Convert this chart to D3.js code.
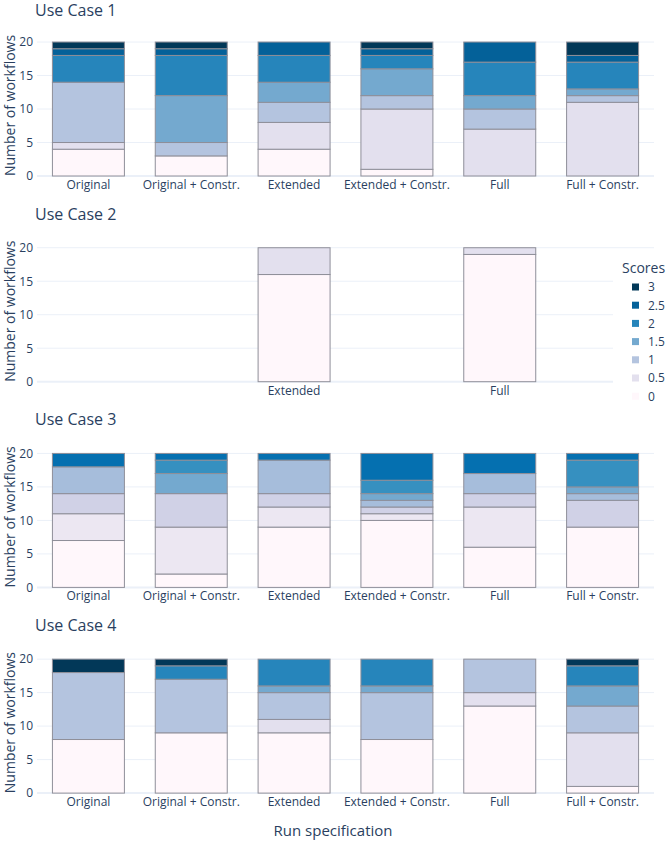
<!DOCTYPE html>
<html>
<head>
<meta charset="utf-8">
<script src="https://cdn.jsdelivr.net/npm/d3@7"></script>
<style>
  body { margin: 0; background: #fff; }
  svg { display: block; font-family: "Open Sans", sans-serif; }
</style>
</head>
<body>
<svg id="chart" width="670" height="841"></svg>
<script>
// categories shared by every panel
const categories = ['Original', 'Original + Constr.', 'Extended', 'Extended + Constr.', 'Full', 'Full + Constr.']
const yTicks = [0, 5, 10, 15, 20]
const legendScores = [3, 2.5, 2, 1.5, 1, 0.5, 0]
const panelTitles = ['Use Case 1', 'Use Case 2', 'Use Case 3', 'Use Case 4']

// Use Case 1: workflows per score, one row per category
const uc1Scores = [0, 0.5, 1, 1.5, 2, 2.5, 3]
const uc1Counts = [
  [4, 1, 9, 0, 4, 1, 1],
  [3, 0, 2, 7, 6, 1, 1],
  [4, 4, 3, 3, 4, 2, 0],
  [1, 9, 2, 4, 2, 1, 1],
  [0, 7, 3, 2, 5, 3, 0],
  [0, 11, 1, 1, 4, 1, 2]
]

// Use Case 2: only Extended and Full were run
const uc2Scores = [0, 0.5]
const uc2Counts = [null, null, [16, 4], null, [19, 1], null]

// Use Case 3: finer score steps
const uc3Scores = [0, 0.375, 0.75, 1.125, 1.5, 1.875, 2.25]
const uc3Counts = [
  [7, 4, 3, 4, 0, 0, 2],
  [2, 7, 5, 0, 3, 2, 1],
  [9, 3, 2, 5, 0, 0, 1],
  [10, 1, 1, 1, 1, 2, 4],
  [6, 6, 2, 3, 0, 0, 3],
  [9, 0, 4, 1, 1, 4, 1]
]

// Use Case 4
const uc4Scores = [0, 0.5, 1, 1.5, 2, 2.5, 3]
const uc4Counts = [
  [8, 0, 10, 0, 0, 0, 2],
  [9, 0, 8, 0, 2, 0, 1],
  [9, 2, 4, 1, 4, 0, 0],
  [8, 0, 7, 1, 4, 0, 0],
  [13, 2, 5, 0, 0, 0, 0],
  [1, 8, 4, 3, 3, 0, 1]
]

const panels = [
  { scores: uc1Scores, counts: uc1Counts },
  { scores: uc2Scores, counts: uc2Counts },
  { scores: uc3Scores, counts: uc3Counts },
  { scores: uc4Scores, counts: uc4Counts }
]

const textColor = '#2a3f5f'
const gridColor = '#ebf0f8'
const pubu = ['#fff7fb', '#ece7f2', '#d0d1e6', '#a6bddb', '#74a9cf', '#3690c0', '#0570b0', '#045a8d', '#023858']
const color = d3.scaleLinear()
  .domain(pubu.map((c, i) => i / 8 * 3))
  .range(pubu)
  .interpolate(d3.interpolateRgb)

const svg = d3.select('#chart')
const left = 37
const right = 654
const plotH = 141
const x = d3.scaleBand().domain(categories).range([left, right]).paddingInner(0.3).paddingOuter(0.15)

panels.forEach((p, i) => {
  const y0 = 176 + i * 205.7
  const y = d3.scaleLinear().domain([0, 21.05]).range([y0, y0 - plotH])
  const g = svg.append('g')

  // 网格线
  g.selectAll('.grid')
    .data(yTicks.filter(t => t > 0))
    .enter()
    .append('line')
    .attr('x1', left).attr('x2', right)
    .attr('y1', d => y(d)).attr('y2', d => y(d))
    .attr('stroke', gridColor)
    .attr('stroke-width', 1)
  g.append('line')
    .attr('x1', left).attr('x2', right)
    .attr('y1', y(0)).attr('y2', y(0))
    .attr('stroke', gridColor)
    .attr('stroke-width', 2)

  // stacked bars
  const segs = []
  p.counts.forEach((row, ci) => {
    if (!row) return
    let acc = 0
    row.forEach((v, si) => {
      if (v > 0) segs.push({ cat: categories[ci], score: p.scores[si], lo: acc, hi: acc + v })
      acc += v
    })
  })
  g.selectAll('.seg')
    .data(segs)
    .enter()
    .append('rect')
    .attr('x', d => x(d.cat))
    .attr('width', x.bandwidth())
    .attr('y', d => y(d.hi))
    .attr('height', d => y(d.lo) - y(d.hi))
    .attr('fill', d => color(d.score))
    .attr('stroke', '#8f8f99')
    .attr('stroke-width', 1)

  // y tick labels
  g.selectAll('.ytick')
    .data(yTicks)
    .enter()
    .append('text')
    .attr('x', 33)
    .attr('y', d => y(d))
    .attr('dy', '0.36em')
    .attr('text-anchor', 'end')
    .attr('font-size', 12)
    .attr('fill', textColor)
    .text(d => d)

  // x tick labels, only where the panel has data
  g.selectAll('.xtick')
    .data(categories.filter((c, ci) => p.counts[ci]))
    .enter()
    .append('text')
    .attr('x', d => x(d) + x.bandwidth() / 2)
    .attr('y', y0 + 13)
    .attr('text-anchor', 'middle')
    .attr('font-size', 12)
    .attr('fill', textColor)
    .text(d => d)

  g.append('text')
    .attr('x', 35)
    .attr('y', Math.max(16, y(20) - 28))
    .attr('font-size', 16)
    .attr('fill', textColor)
    .text(panelTitles[i])

  g.append('text')
    .attr('transform', `translate(15,${y0 - plotH / 2}) rotate(-90)`)
    .attr('text-anchor', 'middle')
    .attr('font-size', 14)
    .attr('fill', textColor)
    .text('Number of workflows')
})

svg.append('text')
  .attr('x', 333)
  .attr('y', 836)
  .attr('text-anchor', 'middle')
  .attr('font-size', 15)
  .attr('fill', textColor)
  .text('Run specification')

// legend
const legend = svg.append('g')
legend.append('rect')
  .attr('x', 613).attr('y', 252)
  .attr('width', 57).attr('height', 154)
  .attr('fill', '#fff')
legend.append('text')
  .attr('x', 622)
  .attr('y', 273)
  .attr('font-size', 14)
  .attr('fill', textColor)
  .text('Scores')
const items = legend.selectAll('.item')
  .data(legendScores)
  .enter()
  .append('g')
  .attr('transform', (d, k) => `translate(0,${287 + k * 18.2})`)
items.append('rect')
  .attr('x', 632).attr('y', -3.5)
  .attr('width', 7).attr('height', 7)
  .attr('fill', d => color(d))
items.append('text')
  .attr('x', 648)
  .attr('dy', '0.36em')
  .attr('font-size', 12)
  .attr('fill', textColor)
  .text(d => d)
</script>
</body>
</html>
